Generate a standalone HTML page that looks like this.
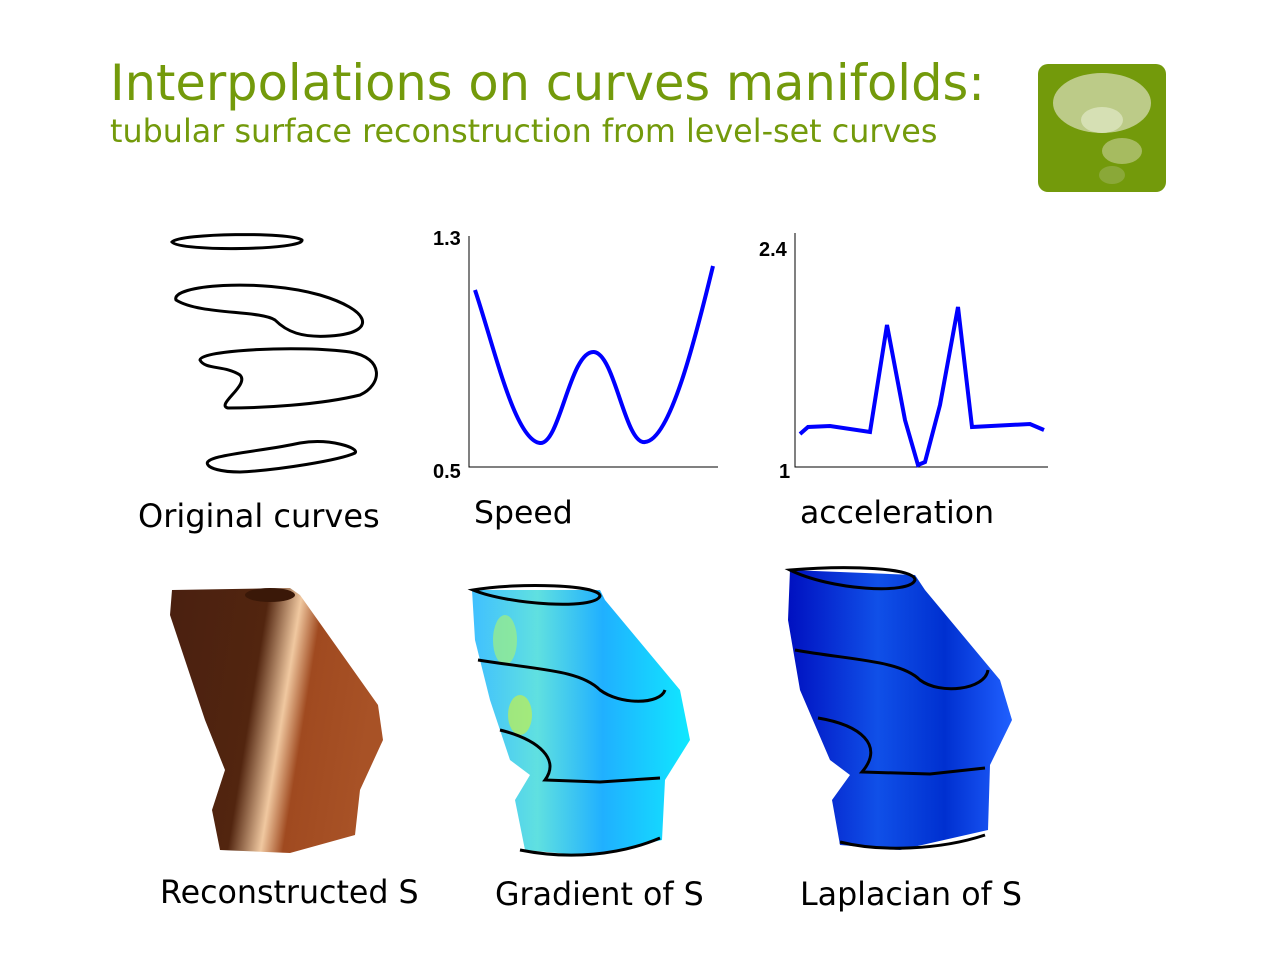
<!DOCTYPE html>
<html><head><meta charset="utf-8"><style>
body{margin:0;width:1280px;height:960px;background:#fff;overflow:hidden;position:relative;font-family:"DejaVu Sans","Liberation Sans",sans-serif}
.t{position:absolute;white-space:nowrap}
</style></head><body>
<div class="t" style="left:110px;top:54px;font-size:49.5px;color:#739a0b">Interpolations on curves manifolds:</div>
<div class="t" style="left:110px;top:113px;font-size:31.8px;color:#739a0b">tubular surface reconstruction from level-set curves</div>
<svg width="1280" height="960" style="position:absolute;left:0;top:0">
<defs>
<linearGradient id="br" x1="0" y1="0" x2="1" y2="0.2"><stop offset="0" stop-color="#4a2010"/><stop offset="0.45" stop-color="#52250f"/><stop offset="0.6" stop-color="#f0c8a0"/><stop offset="0.7" stop-color="#a04a20"/><stop offset="1" stop-color="#a85226"/></linearGradient>
<linearGradient id="cy" x1="0" y1="0" x2="1" y2="0"><stop offset="0" stop-color="#40c0ff"/><stop offset="0.3" stop-color="#60e0e0"/><stop offset="0.6" stop-color="#20b0ff"/><stop offset="1" stop-color="#10e8ff"/></linearGradient>
<linearGradient id="bl" x1="0" y1="0" x2="1" y2="0"><stop offset="0" stop-color="#0010c0"/><stop offset="0.4" stop-color="#1050e8"/><stop offset="0.7" stop-color="#0030d0"/><stop offset="1" stop-color="#2060ff"/></linearGradient>
</defs>
<rect x="1038" y="64" width="128" height="128" rx="10" fill="#739a0b"/>
<ellipse cx="1102" cy="103" rx="49" ry="30" fill="#bccb88"/>
<ellipse cx="1102" cy="120" rx="21" ry="13" fill="#d6e0b4"/>
<ellipse cx="1122" cy="151" rx="20" ry="13" fill="#a6bb60"/>
<ellipse cx="1112" cy="175" rx="13" ry="9" fill="#8aa838"/>
<g fill="none" stroke="#000" stroke-width="3">
<path d="M172,242 C180,233 290,232 302,240 C305,250 180,252 172,242Z"/>
<path d="M176,300 C170,285 260,278 320,295 C370,310 375,330 340,335 C300,340 285,330 275,320 C260,310 200,315 176,300Z"/>
<path d="M200,360 C200,350 300,345 350,352 C385,358 382,385 360,395 C320,405 260,408 228,408 C215,405 250,385 240,375 C225,365 205,370 200,360Z"/>
<path d="M208,465 C200,455 260,452 300,443 C330,438 360,448 355,453 C340,460 280,470 240,472 C220,472 210,468 208,465Z"/>
</g>
<g stroke="#000" stroke-width="1" fill="none"><path d="M469,236 V467 H718"/><path d="M795,233 V467 H1048"/></g>
<g font-size="20" font-weight="bold" font-family="Liberation Sans">
<text x="433" y="245">1.3</text>
<text x="433" y="478">0.5</text>
<text x="759" y="256">2.4</text>
<text x="779" y="478">1</text>
</g>
<path d="M475,290 C495,350 515,440 540,443 C560,445 570,350 594,352 C615,354 625,445 645,442 C670,440 695,340 713,266" fill="none" stroke="#00f" stroke-width="4"/>
<path d="M800,434 L808,427 L830,426 L870,432 L887,325 L905,420 L918,465 L925,462 L940,405 L958,307 L972,427 L1030,424 L1044,430" fill="none" stroke="#00f" stroke-width="4"/>
<path d="M172,590 L290,588 L300,595 L378,705 L383,740 L360,790 L355,835 L290,853 L220,850 L212,810 L225,770 L205,720 L185,660 L170,615Z" fill="url(#br)"/>
<ellipse cx="270" cy="595" rx="25" ry="7" fill="#3a1808"/>
<path d="M472,590 L600,590 L605,600 L680,690 L690,740 L665,780 L662,840 L590,856 L525,850 L515,800 L530,775 L510,760 L490,700 L475,640Z" fill="url(#cy)"/>
<ellipse cx="505" cy="640" rx="12" ry="25" fill="#a0f080" opacity="0.7"/>
<ellipse cx="520" cy="715" rx="12" ry="20" fill="#c0f050" opacity="0.7"/>
<path d="M790,570 L915,575 L925,590 L1000,680 L1012,720 L990,765 L988,830 L900,850 L840,845 L832,800 L850,775 L830,760 L800,690 L788,620Z" fill="url(#bl)"/>
<g fill="none" stroke="#000" stroke-width="3">
<path d="M473,590 C520,582 600,585 600,596 C595,610 510,605 473,590Z"/>
<path d="M478,660 C540,670 580,670 600,690 C620,705 660,705 665,690"/>
<path d="M500,730 C540,740 560,760 545,780 L600,782 L660,778"/>
<path d="M520,850 C570,860 620,855 660,838"/>
<path d="M790,570 C850,565 915,568 915,580 C910,595 830,590 790,570Z"/>
<path d="M795,650 C850,660 900,660 920,680 C940,695 985,690 988,670"/>
<path d="M818,718 C860,725 885,745 862,772 L930,774 L985,768"/>
<path d="M840,842 C880,852 940,850 985,835"/>
</g>
</svg>
<div class="t" style="left:138px;top:497px;font-size:32px">Original curves</div>
<div class="t" style="left:474px;top:495px;font-size:31.5px">Speed</div>
<div class="t" style="left:800px;top:495px;font-size:31.5px">acceleration</div>
<div class="t" style="left:160px;top:875px;font-size:31.7px">Reconstructed S</div>
<div class="t" style="left:495px;top:877px;font-size:31.7px">Gradient of S</div>
<div class="t" style="left:800px;top:877px;font-size:31.7px">Laplacian of S</div>
</body></html>
